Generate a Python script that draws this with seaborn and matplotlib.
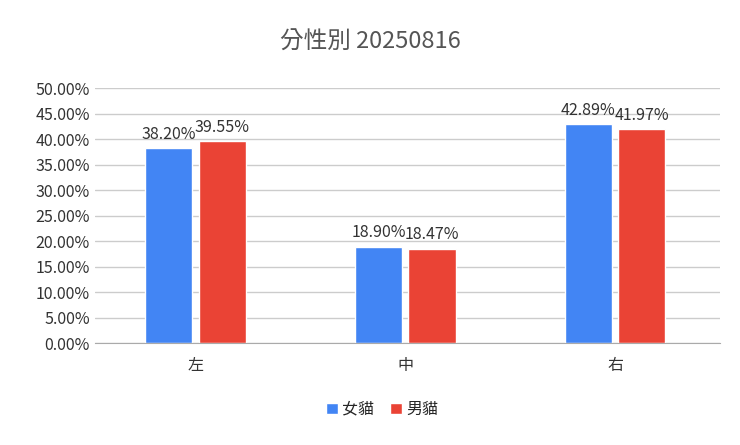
import matplotlib
matplotlib.use("Agg")
import matplotlib.pyplot as plt
import seaborn as sns
import pandas as pd
from matplotlib.ticker import FuncFormatter

categories = ["左", "中", "右"]
series = ["女貓", "男貓"]
female = [0.3820, 0.1890, 0.4289]
male = [0.3955, 0.1847, 0.4197]
colors = ["#4285F4", "#EA4335"]

df = pd.DataFrame({
    "pos": categories * 2,
    "sex": [series[0]] * 3 + [series[1]] * 3,
    "val": female + male,
})

sns.set_style("white")
plt.rcParams['font.family'] = ['Noto Sans CJK TC', 'DejaVu Sans']

fig = plt.figure(figsize=(7.4, 4.45), dpi=100)
ax = fig.add_axes([0.128, 0.229, 0.845, 0.573])
sns.barplot(data=df, x="pos", y="val", hue="sex", palette=colors,
            width=0.51, gap=0.12, ax=ax, legend=True, saturation=1)
for c in ax.containers:
    ax.bar_label(c, labels=[f"{v*100:.2f}%" for v in c.datavalues],
                 padding=4, fontsize=11.5, color="#333333")
ax.set_ylim(0, 0.5)
ax.set_yticks([i * 0.05 for i in range(11)])
ax.yaxis.set_major_formatter(FuncFormatter(lambda v, p: f"{v*100:.2f}%"))
ax.set_xlim(-0.48, 2.5)
ax.grid(axis="y", color="#cccccc", linewidth=1)
ax.set_axisbelow(True)
for s in ["top", "right", "left"]:
    ax.spines[s].set_visible(False)
ax.spines["bottom"].set_color("#aaaaaa")
ax.tick_params(axis="both", length=0, labelsize=11.5, colors="#333333")
ax.tick_params(axis="x", pad=10)
ax.set_xlabel("")
ax.set_ylabel("")
fig.suptitle("分性別 20250816", y=0.93, fontsize=17, color="#555555")
ax.legend(loc="upper center", bbox_to_anchor=(0.46, -0.17), ncol=2, frameon=False,
          fontsize=11.5, handlelength=0.7, handleheight=0.7, columnspacing=1.0,
          handletextpad=0.3)
fig.savefig("out.png", dpi=100)
